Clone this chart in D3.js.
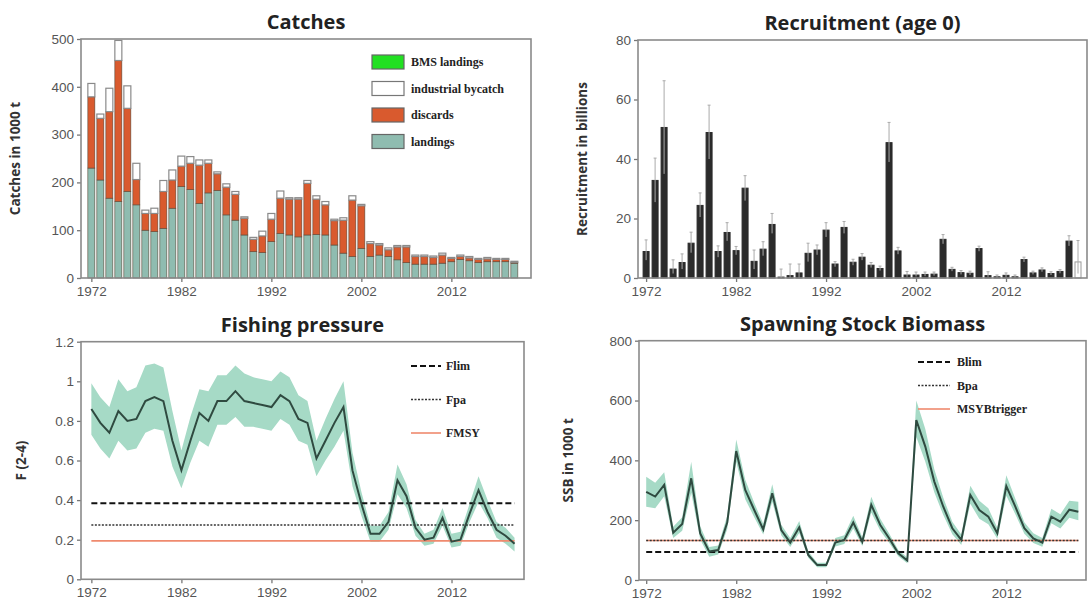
<!DOCTYPE html>
<html><head><meta charset="utf-8">
<script src="https://cdn.jsdelivr.net/npm/d3@7/dist/d3.min.js"></script>
<style>body{margin:0;background:#fff}svg{display:block}</style>
</head><body>
<svg id="c" width="1092" height="610"></svg>
<script>
// ---------- DATA ----------
const catchYears = d3.range(1972, 2020);
const landings = [230,205,167,160,181,153,100,97,104,146,191,185,156,178,183,132,121,90,55,53,76,93,90,86,90,91,90,69,52,45,62,45,48,45,38,32,29,29,29,31,34,39,36,32,34,34,34,31];
const bmsLandings = [0,0,0,0,0,0,0,0,0,0,0,0,0,0,0,0,0,0,0,0,0,0,0,0,0,0,0,0,0,0,0,0,0,0,0,0,0,0,0,0,0,0,0,0,0,0,0,0];
const discards = [149,129,181,295,174,53,35,38,77,59,43,55,80,62,35,58,54,35,26,35,47,74,75,79,108,74,63,51,69,118,89,27,21,14,27,33,16,16,14,17,7,6,6,7,6,5,5,2];
const industrialBycatch = [28,9,49,42,47,34,7,11,23,21,21,14,11,7,4,7,6,3,4,10,12,15,3,3,6,7,7,3,5,9,3,4,3,4,3,3,3,3,3,4,2,3,3,2,3,2,2,2];

const recYears = d3.range(1972, 2021);
const recruitment = [8.9,32.8,50.6,3.0,5.2,11.7,24.4,48.9,8.9,15.3,9.2,30.2,5.6,9.7,18.0,0.3,0.8,1.7,8.3,9.4,16.1,4.7,17.0,5.3,7.0,4.3,3.2,45.5,9.1,1.0,1.0,1.2,1.3,13.0,2.9,1.8,1.6,9.9,0.8,0.4,0.9,0.4,6.2,1.7,2.7,1.5,2.2,12.4,5.4];
const recHigh = [12.8,40.3,66.3,6.1,8.1,15.4,28.6,58.1,10.8,18.6,10.6,34.4,9.4,12.2,21.7,3.0,4.7,4.7,11.7,11.1,18.6,5.5,19.0,6.3,8.2,5.2,4.0,52.3,10.3,2.2,2.0,2.0,2.0,14.6,3.6,2.5,2.3,10.7,2.1,1.0,1.7,1.0,7.0,2.3,3.4,2.1,2.8,14.2,12.6];
const recLow = [6.0,25.5,35.0,1.5,3.0,8.5,20.5,40.0,7.0,12.5,7.8,26.0,3.0,7.5,15.0,0.0,0.0,0.0,5.5,7.8,13.8,3.8,15.0,4.3,6.0,3.5,2.5,39.0,8.0,0.4,0.5,0.6,0.8,11.5,2.3,1.2,1.0,9.0,0.3,0.1,0.3,0.1,5.4,1.2,2.1,1.0,1.6,10.8,1.5];

const fYears = d3.range(1972, 2020);
const fishingF = [0.86,0.79,0.74,0.85,0.80,0.81,0.90,0.92,0.90,0.70,0.55,0.70,0.84,0.80,0.90,0.90,0.95,0.90,0.89,0.88,0.87,0.93,0.90,0.81,0.79,0.61,0.70,0.79,0.87,0.55,0.38,0.23,0.23,0.29,0.50,0.42,0.26,0.20,0.21,0.31,0.19,0.20,0.33,0.45,0.34,0.25,0.22,0.18];
const fHigh = [0.99,0.92,0.87,1.01,0.95,0.97,1.08,1.09,1.07,0.85,0.65,0.82,0.96,0.95,1.03,1.03,1.08,1.04,1.02,1.01,1.00,1.05,1.02,0.93,0.90,0.70,0.81,0.91,1.00,0.64,0.44,0.27,0.27,0.34,0.58,0.48,0.30,0.23,0.25,0.36,0.23,0.24,0.38,0.52,0.40,0.29,0.26,0.21];
const fLow = [0.73,0.66,0.61,0.70,0.65,0.66,0.74,0.76,0.75,0.57,0.46,0.59,0.70,0.67,0.78,0.78,0.82,0.77,0.77,0.76,0.75,0.81,0.78,0.70,0.68,0.52,0.60,0.67,0.75,0.47,0.32,0.19,0.19,0.25,0.43,0.36,0.22,0.17,0.18,0.27,0.16,0.17,0.29,0.39,0.31,0.21,0.18,0.14];
const Flim = 0.384, Fpa = 0.274, FMSY = 0.194;

const ssbYears = d3.range(1972, 2021);
const ssb = [295,279,318,158,187,340,156,95,100,192,431,301,234,169,290,167,125,176,84,50,50,125,134,192,128,251,184,139,89,65,535,446,329,245,173,134,284,234,212,156,314,245,173,139,125,212,195,235,228];
const ssbHigh = [345,325,360,178,210,395,180,110,115,215,470,335,258,188,320,185,140,197,95,58,58,140,150,215,143,278,205,155,100,75,600,505,370,275,195,152,315,265,240,175,350,272,193,156,140,238,220,265,262];
const ssbLow = [245,240,280,140,165,292,135,78,85,170,395,270,210,152,262,150,110,157,74,43,43,112,120,172,114,226,165,124,79,56,478,395,293,217,153,117,255,205,186,138,282,220,155,124,111,190,172,208,200];
const Blim = 94, Bpa = 132, MSYBtrigger = 132;

const yearTicks = [1972,1982,1992,2002,2012];

// ---------- DRAWING ----------
const svg = d3.select("#c");
const FONT = "'Open Sans', 'DejaVu Sans', sans-serif";
const TFONT = "'Liberation Sans', Arial, sans-serif";

function panel(o){
  const g = svg.append("g");
  const x = d3.scaleLinear().domain(o.xd).range([o.l, o.r]);
  const y = d3.scaleLinear().domain(o.yd).range([o.b, o.t]);
  g.append("text").attr("x",(o.l+o.r)/2).attr("y",o.t-10).attr("text-anchor","middle")
    .attr("font-family",FONT).attr("font-weight",700).attr("font-size",20).attr("fill","#222").text(o.title);
  g.append("text").attr("transform",`translate(${o.ylx},${(o.t+o.b)/2}) rotate(-90)`)
    .attr("text-anchor","middle").attr("font-family",FONT).attr("font-weight",700).attr("font-size",13.5)
    .attr("fill","#333").text(o.ylabel);
  const xa = g.append("g").attr("transform",`translate(0,${o.b})`)
    .call(d3.axisBottom(x).tickValues(yearTicks).tickFormat(d3.format("d")).tickSize(4).tickPadding(4));
  const ya = g.append("g").attr("transform",`translate(${o.l},0)`)
    .call(d3.axisLeft(y).tickValues(o.yticks).tickFormat(o.yfmt||(d=>d)).tickSize(4).tickPadding(3));
  [xa,ya].forEach(a=>{
    a.select(".domain").remove();
    a.selectAll("line").attr("stroke","#777").attr("stroke-width",1.3);
    a.selectAll("text").attr("font-family",TFONT).attr("font-size",13.5).attr("fill","#555");
  });
  const plot = g.append("g");
  g.append("rect").attr("x",o.l).attr("y",o.t).attr("width",o.r-o.l).attr("height",o.b-o.t)
    .attr("fill","none").attr("stroke","#8a8a8a").attr("stroke-width",1.6);
  return {g:plot, outer:g, x, y};
}

// ---- Catches ----
(function(){
  const p = panel({l:81,r:531,t:39,b:278,xd:[1970.85,2020.85],yd:[0,500],yticks:[0,100,200,300,400,500],
    title:"Catches",ylabel:"Catches in 1000 t",ylx:20});
  const keys = ["landings","bms","discards","ibc"];
  const colors = {landings:"#8fbcb0",bms:"#22e022",discards:"#d95a2e",ibc:"#ffffff"};
  const rows = catchYears.map((yr,i)=>({year:yr,landings:landings[i],bms:bmsLandings[i],discards:discards[i],ibc:industrialBycatch[i]}));
  const stack = d3.stack().keys(keys)(rows);
  const bw = 7;
  stack.forEach(layer=>{
    p.g.append("g").selectAll("rect").data(layer).join("rect")
      .attr("x",d=>p.x(d.data.year)-bw/2).attr("width",bw)
      .attr("y",d=>p.y(d[1])).attr("height",d=>Math.max(0,p.y(d[0])-p.y(d[1])))
      .attr("fill",colors[layer.key])
      .attr("stroke",layer.key==="ibc"?"#8a8a8a":"#5a4a3a").attr("stroke-width",layer.key==="ibc"?1.2:0.6);
  });
  const leg = [["BMS landings","bms"],["industrial bycatch","ibc"],["discards","discards"],["landings","landings"]];
  leg.forEach((d,i)=>{
    const yy = 55 + i*26.5;
    p.outer.append("rect").attr("x",372).attr("y",yy).attr("width",32).attr("height",14)
      .attr("fill",colors[d[1]]).attr("stroke",d[1]==="ibc"?"#777":"#666").attr("stroke-width",1.2);
    p.outer.append("text").attr("x",411).attr("y",yy+11).attr("font-family","'Liberation Serif', serif")
      .attr("font-weight",700).attr("font-size",12).attr("fill","#222").text(d[0]);
  });
})();

// ---- Recruitment ----
(function(){
  const p = panel({l:638,r:1087,t:40,b:278,xd:[1971.1,2021],yd:[0,80],yticks:[0,20,40,60,80],
    title:"Recruitment (age 0)",ylabel:"Recruitment in billions",ylx:587});
  const bw = 6;
  const n = recYears.length;
  p.g.selectAll("rect.b").data(recYears).join("rect").attr("class","b")
    .attr("x",d=>p.x(d)-bw/2).attr("width",bw)
    .attr("y",(d,i)=>p.y(recruitment[i])).attr("height",(d,i)=>p.y(0)-p.y(recruitment[i]))
    .attr("fill",(d,i)=>i===n-1?"#fff":"#2b2b2b").attr("stroke",(d,i)=>i===n-1?"#999":"#2b2b2b").attr("stroke-width",1);
  const eb = p.g.selectAll("g.e").data(recYears).join("g").attr("class","e");
  eb.append("line").attr("x1",d=>p.x(d)).attr("x2",d=>p.x(d))
    .attr("y1",(d,i)=>p.y(recLow[i])).attr("y2",(d,i)=>p.y(recHigh[i])).attr("stroke","#aaa").attr("stroke-width",1);
  eb.append("line").attr("x1",d=>p.x(d)-1.5).attr("x2",d=>p.x(d)+1.5)
    .attr("y1",(d,i)=>p.y(recHigh[i])).attr("y2",(d,i)=>p.y(recHigh[i])).attr("stroke","#aaa").attr("stroke-width",1);
})();

function refLine(p, v, x0, x1, style){
  p.g.append("line").attr("x1",p.x(x0)).attr("x2",p.x(x1)).attr("y1",p.y(v)).attr("y2",p.y(v))
    .attr("stroke",style.c).attr("stroke-width",style.w).attr("stroke-dasharray",style.d||null);
}
const S_LIM = {c:"#111",w:2,d:"6,3"}, S_PA = {c:"#333",w:1.6,d:"2,1.5"}, S_MSY = {c:"#ef8a6e",w:1.6};

// ---- Fishing pressure ----
(function(){
  const p = panel({l:81,r:524,t:341.7,b:579.3,xd:[1970.85,2020.05],yd:[0,1.2],yticks:[0,0.2,0.4,0.6,0.8,1,1.2],
    yfmt:d=>String(+d.toFixed(1)),title:"Fishing pressure",ylabel:"F (2-4)",ylx:26});
  const area = d3.area().x((d,i)=>p.x(fYears[i])).y0((d,i)=>p.y(fLow[i])).y1((d,i)=>p.y(fHigh[i]));
  p.g.append("path").datum(fishingF).attr("d",area).attr("fill","#a6dac6");
  refLine(p,FMSY,1972,2019,S_MSY);
  refLine(p,Fpa,1972,2019,S_PA);
  refLine(p,Flim,1972,2019,S_LIM);
  p.g.append("path").datum(fishingF).attr("d",d3.line().x((d,i)=>p.x(fYears[i])).y(d=>p.y(d)))
    .attr("fill","none").attr("stroke","#2f4a40").attr("stroke-width",2);
  const leg = [["Flim",S_LIM],["Fpa",S_PA],["FMSY",S_MSY]];
  leg.forEach((d,i)=>{
    const yy = 366 + i*33.5;
    p.outer.append("line").attr("x1",411).attr("x2",441).attr("y1",yy).attr("y2",yy)
      .attr("stroke",d[1].c).attr("stroke-width",d[1].w).attr("stroke-dasharray",d[1].d||null);
    p.outer.append("text").attr("x",446).attr("y",yy+4).attr("font-family","'Liberation Serif', serif")
      .attr("font-weight",700).attr("font-size",12).attr("fill","#222").text(d[0]);
  });
})();

// ---- SSB ----
(function(){
  const p = panel({l:639,r:1086,t:340.7,b:580,xd:[1971.2,2020.85],yd:[0,800],yticks:[0,200,400,600,800],
    title:"Spawning Stock Biomass",ylabel:"SSB in 1000 t",ylx:573});
  const area = d3.area().x((d,i)=>p.x(ssbYears[i])).y0((d,i)=>p.y(ssbLow[i])).y1((d,i)=>p.y(ssbHigh[i]));
  p.g.append("path").datum(ssb).attr("d",area).attr("fill","#a6dac6");
  refLine(p,MSYBtrigger,1972,2020,S_MSY);
  refLine(p,Bpa,1972,2020,S_PA);
  refLine(p,Blim,1972,2020,S_LIM);
  p.g.append("path").datum(ssb).attr("d",d3.line().x((d,i)=>p.x(ssbYears[i])).y(d=>p.y(d)))
    .attr("fill","none").attr("stroke","#2f4a40").attr("stroke-width",2);
  const leg = [["Blim",S_LIM],["Bpa",S_PA],["MSYBtrigger",S_MSY]];
  leg.forEach((d,i)=>{
    const yy = 362 + i*23.5;
    p.outer.append("line").attr("x1",918).attr("x2",950).attr("y1",yy).attr("y2",yy)
      .attr("stroke",d[1].c).attr("stroke-width",d[1].w).attr("stroke-dasharray",d[1].d||null);
    p.outer.append("text").attr("x",957).attr("y",yy+4).attr("font-family","'Liberation Serif', serif")
      .attr("font-weight",700).attr("font-size",12).attr("fill","#222").text(d[0]);
  });
})();
</script>
</body></html>
